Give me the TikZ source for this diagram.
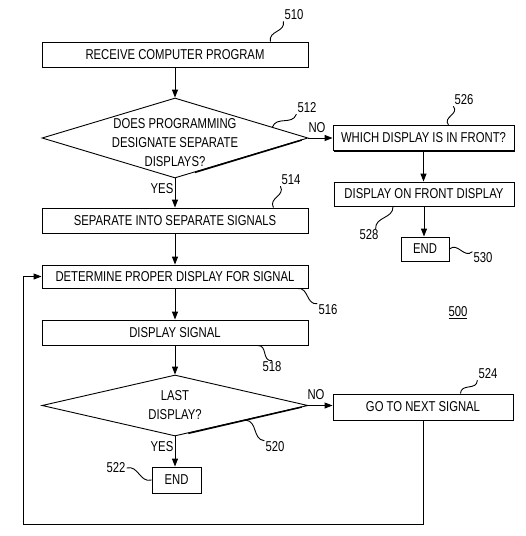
\documentclass[tikz,border=0pt]{standalone}
\usepackage{fontspec}
\setmainfont{Liberation Sans}[FakeStretch=0.79]
\usetikzlibrary{shapes.geometric,arrows.meta,calc,shadows}
\newcommand\squig[2]{\draw[squig] (#1) .. controls ($(#1)!0.33!(#2)!8pt!90:(#2)$) and ($(#1)!0.67!(#2)!8pt!-90:(#2)$) .. (#2);}
\begin{document}
\begin{tikzpicture}[x=1pt,y=-1pt,
  every node/.style={font=\fontsize{14.3}{19}\selectfont},
  box/.style={draw, line width=0.9pt, fill=white, inner sep=0pt, minimum height=25pt,
    drop shadow={shadow xshift=1.2pt, shadow yshift=-1.2pt, fill=black, opacity=1}},
  dec/.style={draw, diamond, line width=0.9pt, inner sep=0pt},
  thickedge/.style={line width=1.5pt},
  arr/.style={line width=0.9pt, -{Triangle[length=8pt,width=6pt]}},
  lbl/.style={inner sep=1pt},
  squig/.style={line width=0.9pt},
]
\useasboundingbox (0,0) rectangle (526,536);

% main column
\node[box, minimum width=266pt] (b510) at (175,54.5) {RECEIVE COMPUTER PROGRAM};
\node[dec, minimum width=266pt, minimum height=80pt,
  label={[align=center, yshift=-5pt]center:DOES PROGRAMMING\\DESIGNATE SEPARATE\\DISPLAYS?}] (d512) at (175,138) {};
\draw[thickedge] ($(d512.east)!0.05!(d512.south)$) -- ($(d512.east)!0.85!(d512.south)$);
\node[box, minimum width=266pt] (b514) at (175,220.5) {SEPARATE INTO SEPARATE SIGNALS};
\node[box, minimum width=266pt, minimum height=23pt] (b516) at (175,276.5) {DETERMINE PROPER DISPLAY FOR SIGNAL};
\node[box, minimum width=266pt] (b518) at (175,332.5) {DISPLAY SIGNAL};
\node[dec, minimum width=266pt, minimum height=61pt,
  label={[align=center]center:LAST\\DISPLAY?}] (d520) at (175,405.5) {};
\draw[thickedge] ($(d520.east)!0.05!(d520.south)$) -- ($(d520.east)!0.9!(d520.south)$);
\node[box, minimum width=49pt, minimum height=26pt] (b522) at (176.5,480) {END};

% right column
\node[box, minimum width=181pt] (b526) at (423.5,138) {WHICH DISPLAY IS IN FRONT?};
\node[box, minimum width=180pt, minimum height=24pt] (b528) at (424,194) {DISPLAY ON FRONT DISPLAY};
\node[box, minimum width=48pt, minimum height=24pt] (b530) at (425,249) {END};
\node[box, minimum width=180pt, minimum height=26pt] (b524) at (423,407) {GO TO NEXT SIGNAL};

% connectors
\draw[arr] (b510.south) -- (d512.north);
\draw[arr] (d512.east) -- (b526.west);
\draw[arr] (d512.south) -- (b514.north);
\draw[arr] (b526.south) -- (b526.south |- b528.north);
\draw[arr] (b528.south) -- (b528.south |- b530.north);
\draw[arr] (b514.south) -- (b516.north);
\draw[arr] (b516.south) -- (b518.north);
\draw[arr] (b518.south) -- (d520.north);
\draw[arr] (d520.east) -- (d520.east -| b524.west);
\draw[arr] (d520.south) -- (d520.south |- b522.north);
\coordinate (lc) at (23,524);
\draw[arr] (b524.south) |- (lc) |- (b516.west);

% branch labels
\node[lbl] (no1) at (317,128) {NO};
\node[lbl] (yes1) at (162,189) {YES};
\node[lbl] (no2) at (316,395) {NO};
\node[lbl] (yes2) at (162,447) {YES};

% reference numerals
\node[lbl] (l510) at (294,15) {510};
\node[lbl] (l512) at (307,108) {512};
\node[lbl] (l526) at (464,100) {526};
\node[lbl] (l514) at (291,180) {514};
\node[lbl] (l528) at (369,235) {528};
\node[lbl] (l530) at (483,258) {530};
\node[lbl] (l516) at (328,310) {516};
\node[lbl] (l518) at (272,367) {518};
\node[lbl] (l500) at (458,313) {\underline{500}};
\node[lbl] (l524) at (488,374) {524};
\node[lbl] (l520) at (275,447) {520};
\node[lbl] (l522) at (116,468) {522};

\coordinate (s510) at ([xshift=-38pt]b510.north east);
\coordinate (s512) at ($(d512.north)!0.73!(d512.east)$);
\coordinate (s526) at ([xshift=25pt]b526.north);
\coordinate (s514) at ([xshift=-35pt]b514.north east);
\coordinate (s528) at ([xshift=-31pt]b528.south);
\coordinate (e528) at ([xshift=-4pt]l528.north east);
\coordinate (s516) at ([xshift=-11pt]b516.south east);
\coordinate (s518) at ([xshift=-51pt]b518.south east);
\coordinate (s524) at ([xshift=-53pt]b524.north east);
\coordinate (s520) at ($(d520.east)!0.47!(d520.south)$);

\squig{s510}{l510.south west}
\squig{s512}{l512.south west}
\squig{s526}{l526.south west}
\squig{s514}{l514.south west}
\squig{s528}{e528}
\squig{b530.east}{l530.north west}
\squig{s516}{l516.north west}
\squig{s518}{l518.north}
\squig{s524}{l524.south west}
\squig{s520}{l520.north west}
\squig{l522.east}{b522.west}
\end{tikzpicture}
\end{document}
